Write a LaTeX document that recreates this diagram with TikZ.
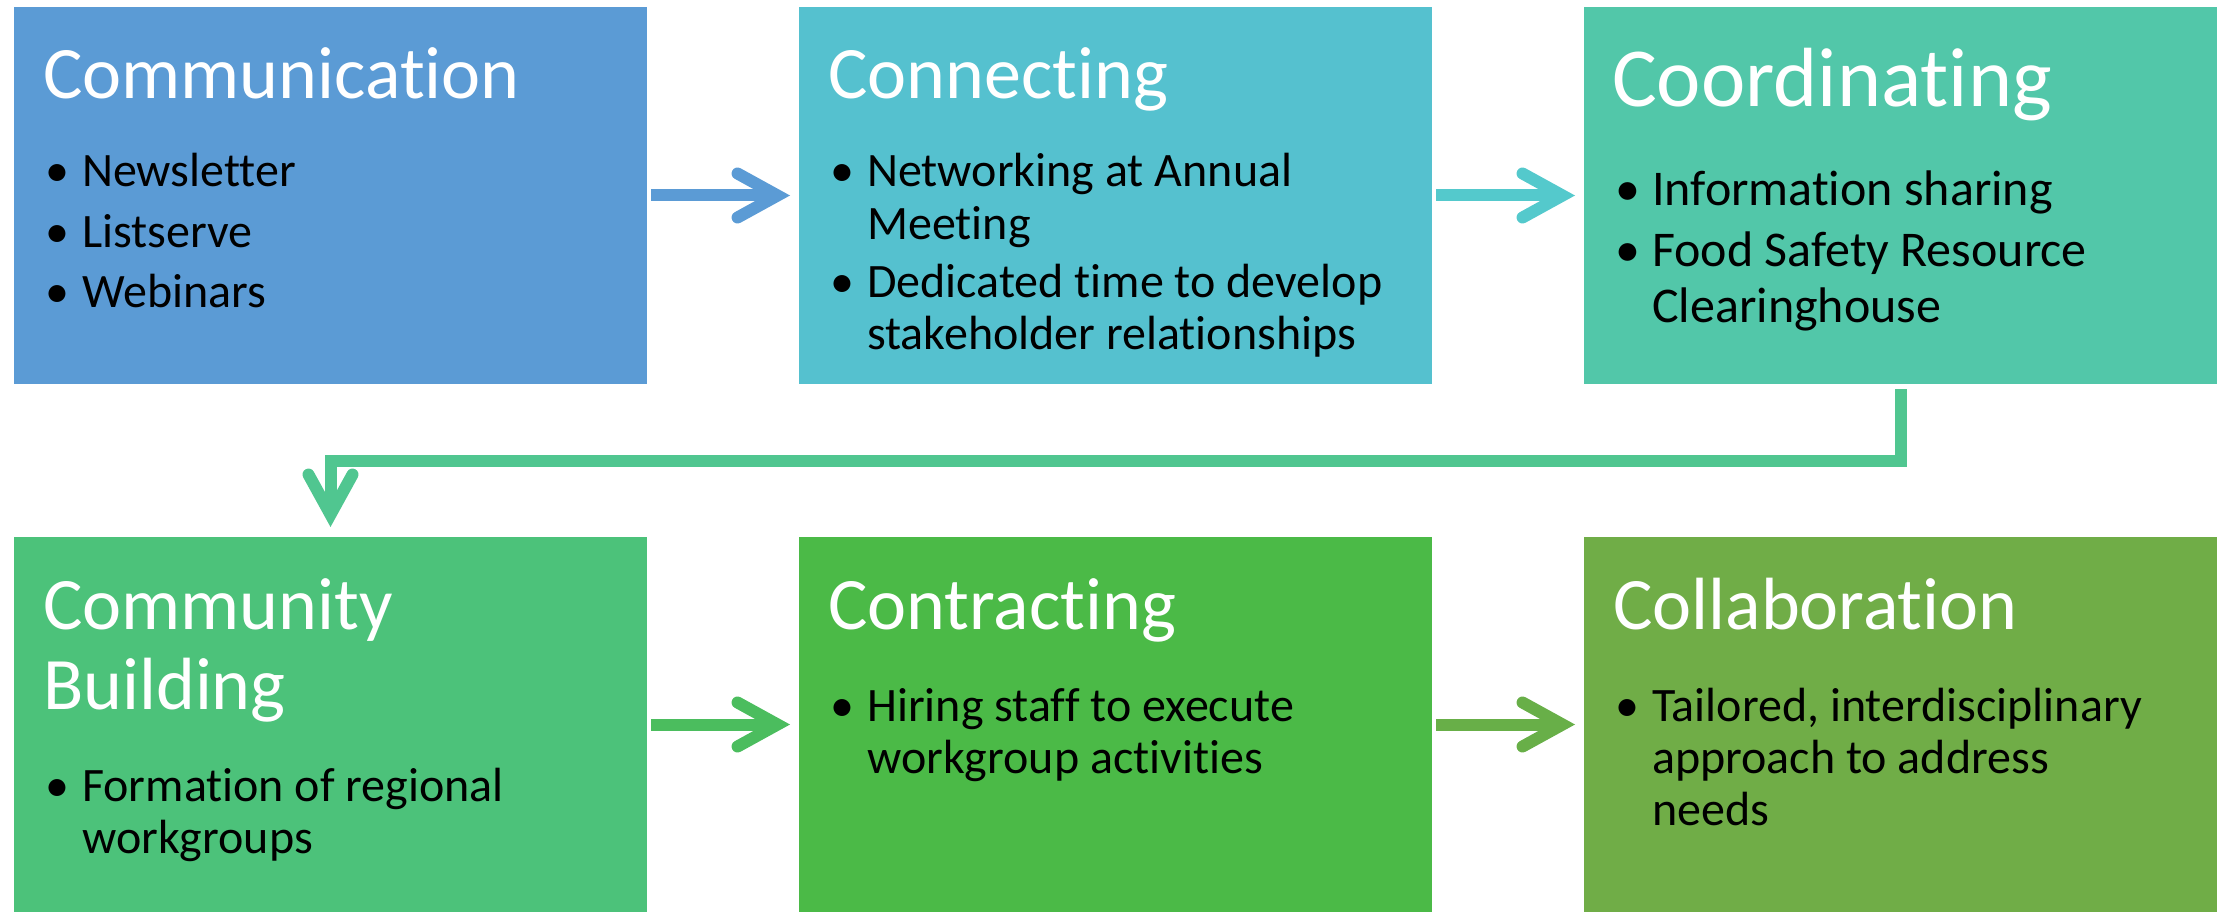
\documentclass[tikz,border=0pt]{standalone}
\usepackage{fontspec}
\setmainfont{Carlito}[Ligatures=NoCommon]
\usetikzlibrary{positioning,arrows.meta}

\definecolor{cComm}{HTML}{5B9BD5}
\definecolor{cConn}{HTML}{55C1CF}
\definecolor{cCoord}{HTML}{52C7A9}
\definecolor{cBuild}{HTML}{4CC27A}
\definecolor{cContr}{HTML}{4BBA47}
\definecolor{cCollab}{HTML}{70AD47}
\definecolor{aConn}{HTML}{54C9CC}
\definecolor{aCoord}{HTML}{50C690}
\definecolor{aContr}{HTML}{4BBD5E}
\definecolor{aCollab}{HTML}{68AF48}

% one bullet point, hanging indent
\newcommand{\bul}[1]{\hangindent=37pt\hangafter=1\noindent\makebox[37pt][l]{\textbullet}#1\par}

\begin{document}
\begin{tikzpicture}[x=1pt,y=1pt]
\tikzstyle{stage}=[rectangle, inner sep=0pt, outer sep=0pt, minimum width=633pt, minimum height=377pt, anchor=north west]
\tikzstyle{ttl}=[anchor=base west, inner sep=0pt, text=white, font=\fontsize{74}{80}\selectfont]
\tikzstyle{pts}=[anchor=base west, inner sep=0pt, font=\fontsize{48}{52}\selectfont]
\tikzstyle{flow}=[line width=12pt, shorten <=4pt, shorten >=9pt,
  -{Straight Barb[length=40pt, width=44pt, line cap=round, line join=miter]}]
\useasboundingbox (0,0) rectangle (2221,-912);

% top row
\node[stage, fill=cComm] (comm) at (14,-7) {};
\node[stage, fill=cConn, right=152pt of comm] (conn) {};
\node[stage, fill=cCoord, right=152pt of conn] (coord) {};
% bottom row
\node[stage, fill=cBuild, minimum height=375pt, below=153pt of comm] (build) {};
\node[stage, fill=cContr, minimum height=375pt, right=152pt of build] (contr) {};
\node[stage, fill=cCollab, minimum height=375pt, right=152pt of contr] (collab) {};

% titles
\node[ttl] (commT) at ([shift={(29,-92)}]comm.north west) {Communication};
\node[ttl] (connT) at ([shift={(29,-92)}]conn.north west) {Connecting};
\node[ttl, font=\fontsize{84}{90}\selectfont] (coordT) at ([shift={(28,-100)}]coord.north west) {Coordinating};
\node[ttl] (buildT) at ([shift={(29,-92)}]build.north west) {\parbox[t]{560pt}{Community\\Building}};
\node[ttl] (contrT) at ([shift={(29,-92)}]contr.north west) {Contracting};
\node[ttl] (collabT) at ([shift={(29,-92)}]collab.north west) {Collaboration};

% bullet points
\node[pts] (commL) at ([shift={(31,-180)}]comm.north west) {\parbox[t]{580pt}{\setlength{\parskip}{8pt}\raggedright
  \bul{Newsletter}\bul{Listserve}\bul{Webinars}}};
\node[pts] (connL) at ([shift={(31,-180)}]conn.north west) {\parbox[t]{580pt}{\setlength{\parskip}{7pt}\raggedright
  \bul{Networking at Annual\newline Meeting}\bul{Dedicated time to develop\newline stakeholder relationships}}};
\node[pts, font=\fontsize{50}{55}\selectfont] (coordL) at ([shift={(31,-198)}]coord.north west) {\parbox[t]{580pt}{\setlength{\parskip}{7pt}\raggedright
  \bul{Information sharing}\bul{Food Safety Resource\newline Clearinghouse}}};
\node[pts] (buildL) at ([shift={(31,-264)}]build.north west) {\parbox[t]{580pt}{\raggedright
  \bul{Formation of regional\newline workgroups}}};
\node[pts] (contrL) at ([shift={(31,-184)}]contr.north west) {\parbox[t]{580pt}{\raggedright
  \bul{Hiring staff to execute\newline workgroup activities}}};
\node[pts] (collabL) at ([shift={(31,-184)}]collab.north west) {\parbox[t]{580pt}{\raggedright
  \bul{Tailored, interdisciplinary\newline approach to address\newline needs}}};

% arrows
\draw[flow, cComm] (comm.east) -- (conn.west);
\draw[flow, aConn] (conn.east) -- (coord.west);
\draw[flow, aCoord, shorten <=5pt, shorten >=10pt] (coord.south) -- ++(0,-76.5) -| (build.north);
\draw[flow, aContr] (build.east) -- (contr.west);
\draw[flow, aCollab] (contr.east) -- (collab.west);
\end{tikzpicture}
\end{document}
